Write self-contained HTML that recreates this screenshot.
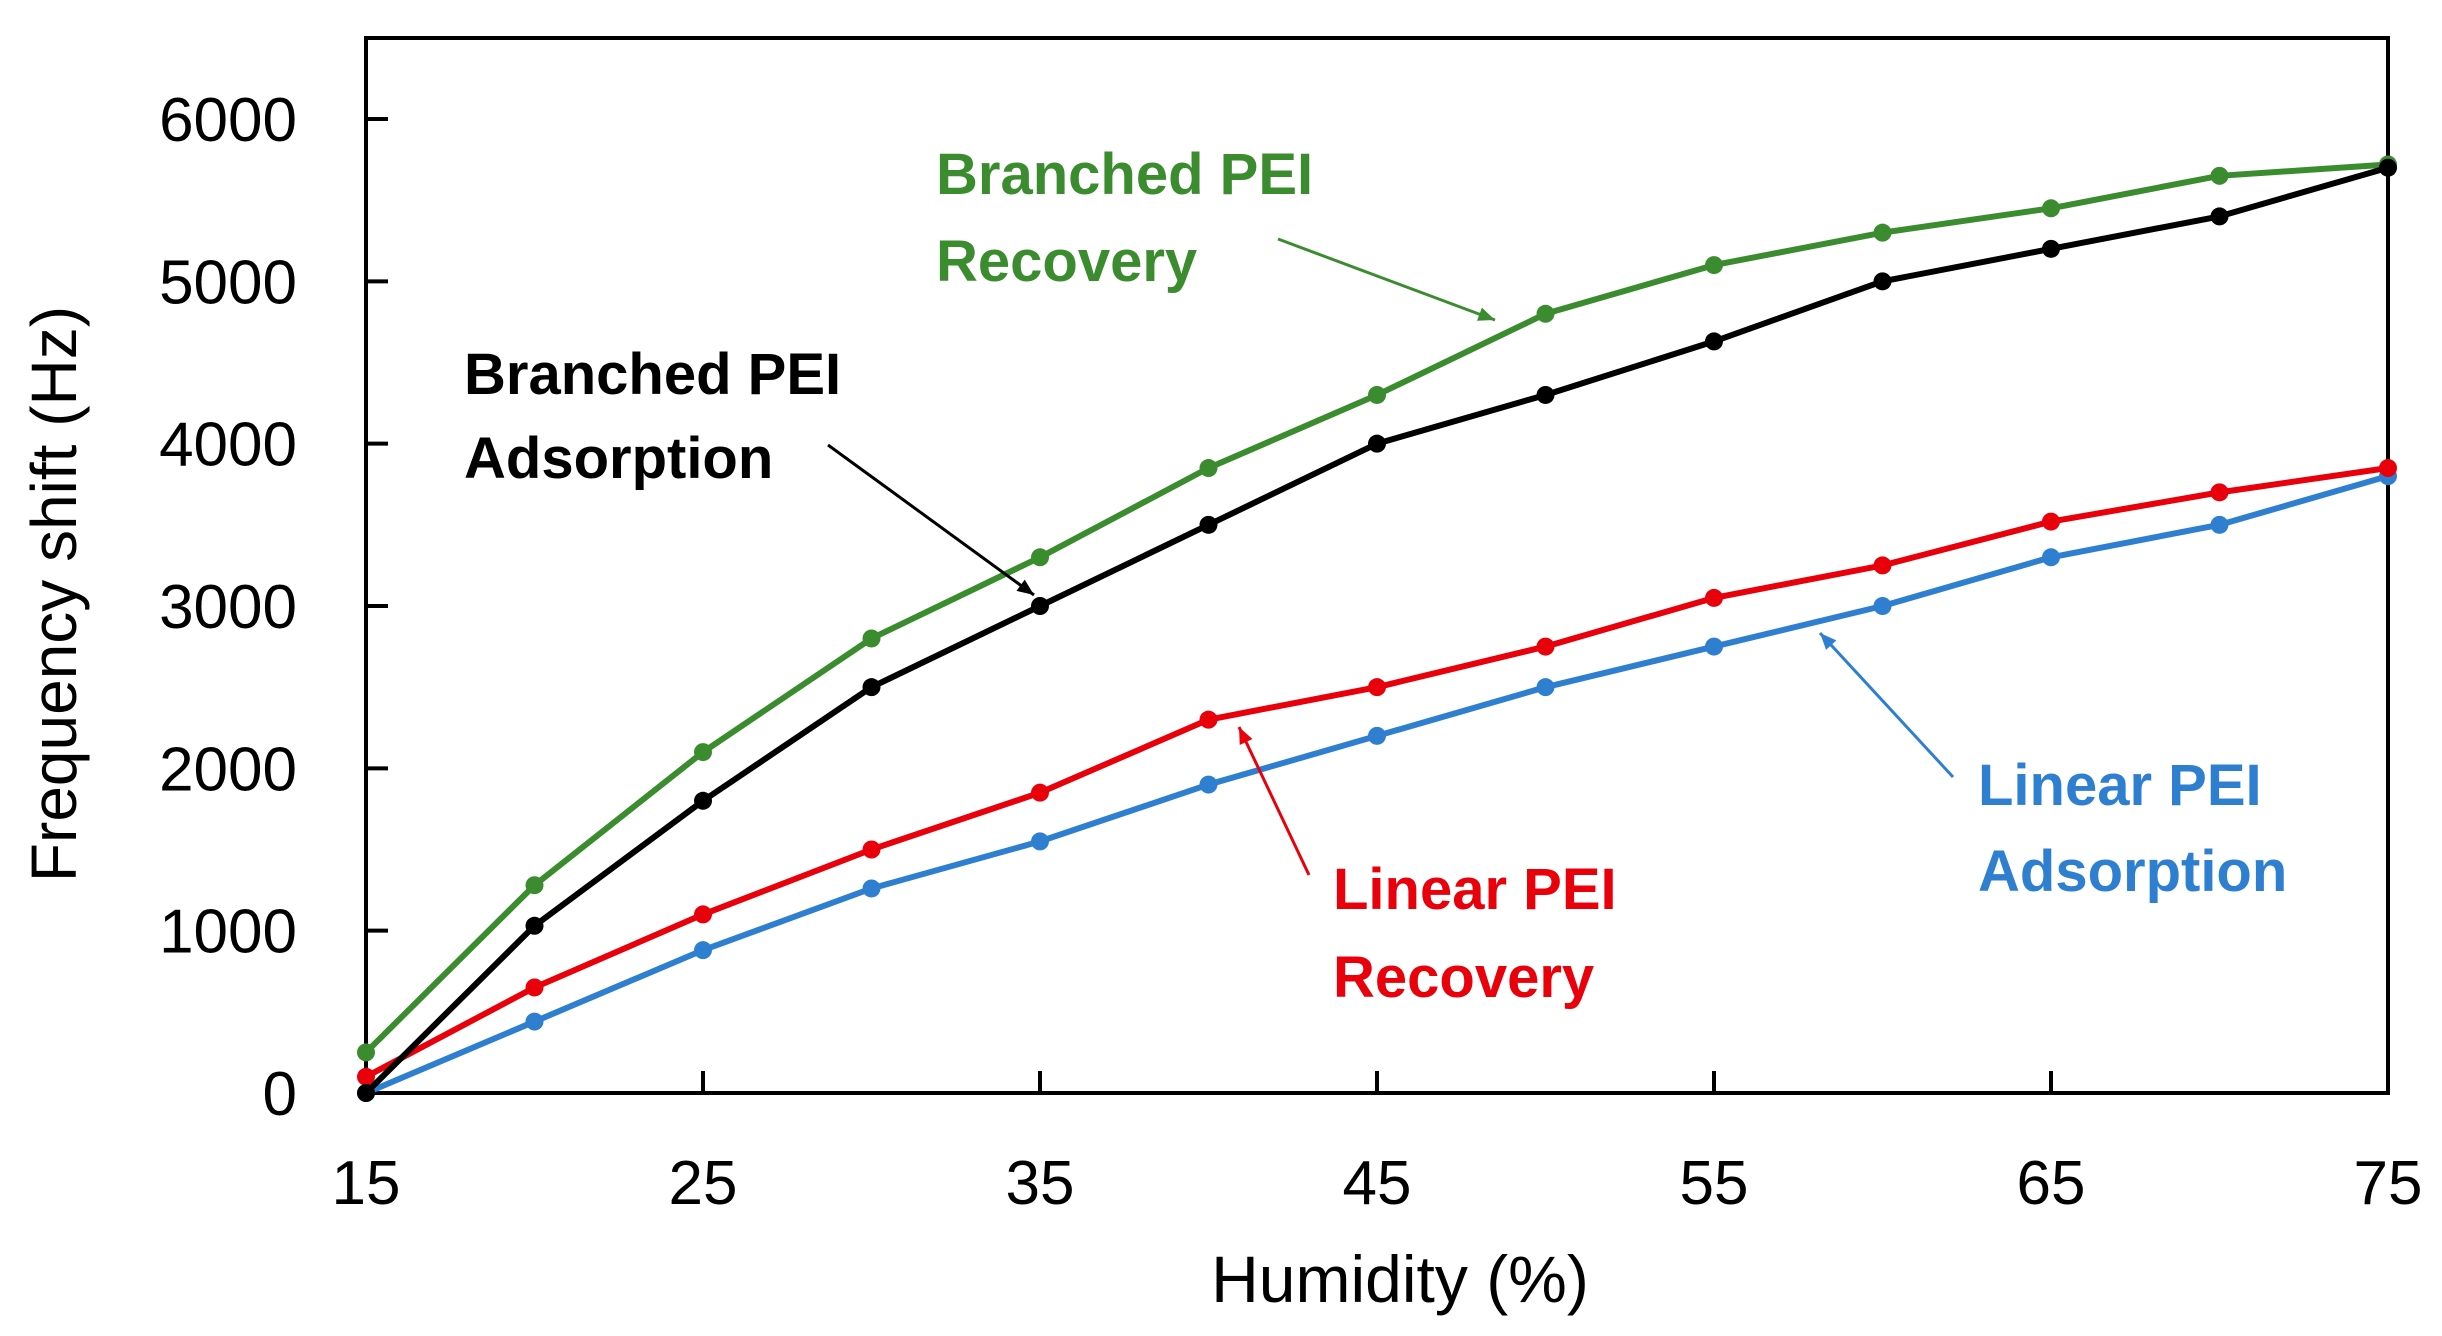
<!DOCTYPE html>
<html><head><meta charset="utf-8"><style>
html,body{margin:0;padding:0;background:#fff;}
svg{display:block;font-family:"Liberation Sans",sans-serif;}
</style></head><body>
<svg id="chart" width="2442" height="1336" viewBox="0 0 2442 1336">
<g id="axes"></g><g id="series"></g><g id="annot"></g>
</svg>
<script>
const humidity=[15,20,25,30,35,40,45,50,55,60,65,70,75];
const branchedRecovery=[250,1280,2100,2800,3300,3850,4300,4800,5100,5300,5450,5650,5720];
const branchedAdsorption=[0,1030,1800,2500,3000,3500,4000,4300,4630,5000,5200,5400,5700];
const linearRecovery=[100,650,1100,1500,1850,2300,2500,2750,3050,3250,3520,3700,3850];
const linearAdsorption=[0,440,880,1260,1550,1900,2200,2500,2750,3000,3300,3500,3800];
const xTicks=[15,25,35,45,55,65,75];
const yTicks=[0,1000,2000,3000,4000,5000,6000];

const NS="http://www.w3.org/2000/svg";
const L=366,R=2388,T=38,B=1093;
const xMin=15,xMax=75;
const y6000=119;
function X(v){return L+(v-xMin)/(xMax-xMin)*(R-L);}
function Y(v){return B-v/6000*(B-y6000);}
function mk(tag,attrs,parent){const e=document.createElementNS(NS,tag);for(const k in attrs)e.setAttribute(k,attrs[k]);parent.appendChild(e);return e;}
const axes=document.getElementById('axes');
const frame=mk('rect',{x:L,y:T,width:R-L,height:B-T,fill:'none',stroke:'#000','stroke-width':4},axes);


yTicks.forEach(v=>{
  const t=mk('line',{x1:L,x2:L+22,y1:Y(v),y2:Y(v),stroke:'#000','stroke-width':4},axes);
  
  
  const lb=mk('text',{x:297,y:Y(v)+22,'text-anchor':'end','font-size':62,fill:'#000'},axes);
  lb.textContent=v;
  
  
});
xTicks.forEach(v=>{
  const t=mk('line',{x1:X(v),x2:X(v),y1:B,y2:B-22,stroke:'#000','stroke-width':4},axes);
  
  
  const lb=mk('text',{x:X(v),y:1204,'text-anchor':'middle','font-size':62,fill:'#000'},axes);
  lb.textContent=v;
  
  
});
const xt=mk('text',{x:1400,y:1302,'text-anchor':'middle','font-size':66,fill:'#000'},axes);
xt.textContent='Humidity (%)';


const yt=mk('text',{x:0,y:0,'text-anchor':'middle','font-size':64,fill:'#000',transform:'translate(76,594) rotate(-90)'},axes);
yt.textContent='Frequency shift (Hz)';



const ser=document.getElementById('series');
function drawSeries(vals,color,name){
  const g=mk('g',{},ser);
  
  
  const pts=vals.map((v,i)=>X(humidity[i])+','+Y(v)).join(' ');
  mk('polyline',{points:pts,fill:'none',stroke:color,'stroke-width':6,'stroke-linejoin':'round'},g);
  vals.forEach((v,i)=>{
    const c=mk('circle',{cx:X(humidity[i]),cy:Y(v),r:9,fill:color},g);
    
    
  });
}
drawSeries(linearAdsorption,'#2f7fd0','linear-adsorption-series');
drawSeries(linearRecovery,'#e8000b','linear-recovery-series');
drawSeries(branchedRecovery,'#3b8c2f','branched-recovery-series');
drawSeries(branchedAdsorption,'#000000','branched-adsorption-series');

const an=document.getElementById('annot');
function label(lines,x,ys,color,name,arrow){
  const g=mk('g',{},an);
  
  
  lines.forEach((s,i)=>{const t=mk('text',{x:x,y:ys[i],'font-size':58,'font-weight':'bold',fill:color},g);t.textContent=s;});
  const [x1,y1,x2,y2]=arrow;
  mk('line',{x1:x1,y1:y1,x2:x2,y2:y2,stroke:color,'stroke-width':3},g);
  const a=Math.atan2(y2-y1,x2-x1),h=18,w=0.4;
  mk('polygon',{points:`${x2},${y2} ${x2-h*Math.cos(a-w)},${y2-h*Math.sin(a-w)} ${x2-h*Math.cos(a+w)},${y2-h*Math.sin(a+w)}`,fill:color},g);
}
label(['Branched PEI','Recovery'],936,[194,281],'#3b8c2f','branched-recovery-label',[1278,239,1495,320]);
label(['Branched PEI','Adsorption'],464,[394,478],'#000','branched-adsorption-label',[828,445,1034,595]);
label(['Linear PEI','Recovery'],1333,[909,997],'#e8000b','linear-recovery-label',[1309,875,1239,727]);
label(['Linear PEI','Adsorption'],1978,[805,891],'#2f7fd0','linear-adsorption-label',[1953,777,1820,633]);
</script>
</body></html>
